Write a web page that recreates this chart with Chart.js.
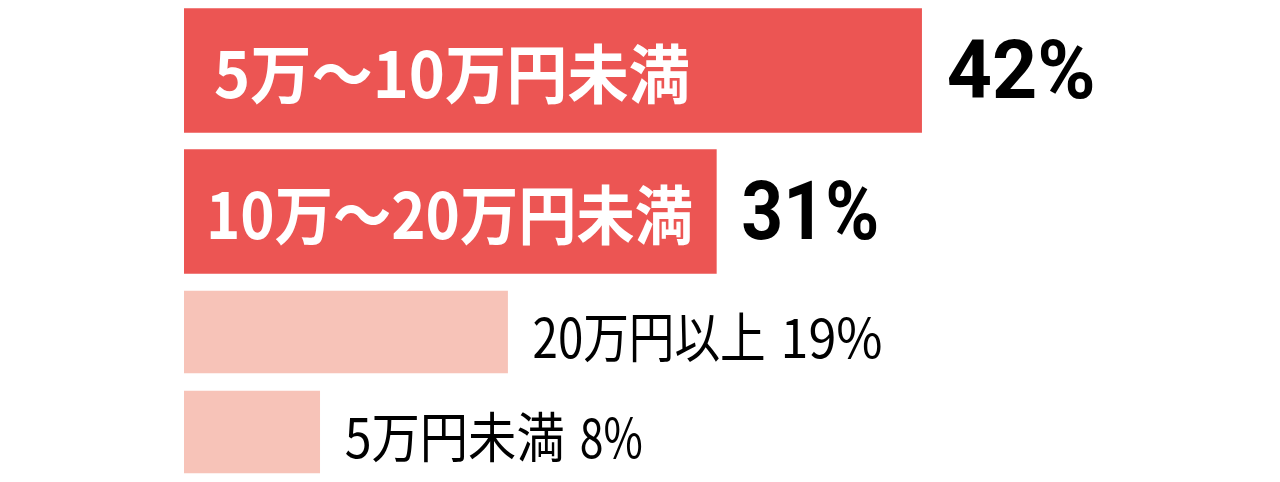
<!DOCTYPE html>
<html>
<head>
<meta charset="utf-8">
<script src="https://cdn.jsdelivr.net/npm/chart.js@4.4.1/dist/chart.umd.min.js"></script>
<style>
  html, body { margin: 0; padding: 0; background: #fff; }
  #wrap { position: relative; width: 1280px; height: 482px; }
  canvas { position: absolute; left: 0; }
</style>
</head>
<body>
<div id="wrap">
  <canvas id="topChart" width="1280" height="282" style="top:0"></canvas>
  <canvas id="bottomChart" width="1280" height="200" style="top:282px"></canvas>
</div>
<script>
// 毎月の予算（割合 %）
var categories = ['5万～10万円未満', '10万～20万円未満', '20万円以上', '5万円未満'];
var shares = [42.4, 30.6, 18.6, 7.8];

var RED = 'rgb(236,85,83)';
var PINK = 'rgb(247,195,184)';

// draws the category name and the rounded percentage next to each bar
var barLabels = {
  id: 'barLabels',
  afterDatasetsDraw: function (chart, args, opts) {
    var ctx = chart.ctx;
    var meta = chart.getDatasetMeta(0);
    var labels = chart.data.labels;
    var data = chart.data.datasets[0].data;
    meta.data.forEach(function (bar, i) {
      var pct = Math.round(data[i]) + '%';
      ctx.save();
      ctx.textAlign = 'left';
      ctx.textBaseline = 'alphabetic';
      if (opts.inside) {
        ctx.fillStyle = '#fff';
        ctx.font = 'bold 64px "Noto Sans CJK JP"';
        ctx.fillText(labels[i], bar.base + opts.inset[i], bar.y + 27, opts.nameWidth[i]);
        ctx.fillStyle = '#000';
        ctx.font = 'bold 82px Roboto';
        ctx.fillText(pct, bar.x + 25, bar.y + 27, opts.pctWidth[i]);
      } else {
        ctx.fillStyle = '#000';
        ctx.font = '400 54px "Noto Sans CJK JP"';
        var x = bar.x + 25;
        var w = Math.min(ctx.measureText(labels[i]).width, opts.nameWidth[i]);
        ctx.fillText(labels[i], x, bar.y + 26, opts.nameWidth[i]);
        ctx.fillText(pct, x + w + 15, bar.y + 26, opts.pctWidth[i]);
      }
      ctx.restore();
    });
  }
};

function makeChart(id, labels, values, color, thickness, labelOpts) {
  return new Chart(document.getElementById(id).getContext('2d'), {
    type: 'bar',
    data: {
      labels: labels,
      datasets: [{
        data: values,
        backgroundColor: color,
        borderWidth: 0,
        barThickness: thickness
      }]
    },
    options: {
      indexAxis: 'y',
      responsive: false,
      animation: false,
      devicePixelRatio: 1,
      layout: { padding: { left: 184, right: 0, top: 0, bottom: 0 } },
      scales: {
        x: { display: false, min: 0, max: 63 },
        y: { display: false }
      },
      plugins: {
        legend: { display: false },
        tooltip: { enabled: false },
        barLabels: labelOpts
      }
    },
    plugins: [barLabels]
  });
}

makeChart('topChart', categories.slice(0, 2), shares.slice(0, 2), RED, 124,
  { inside: true, inset: [30, 22], nameWidth: [476, 487], pctWidth: [149, 138] });
makeChart('bottomChart', categories.slice(2), shares.slice(2), PINK, 82,
  { inside: false, nameWidth: [233, 220], pctWidth: [102, 63] });
</script>
</body>
</html>
